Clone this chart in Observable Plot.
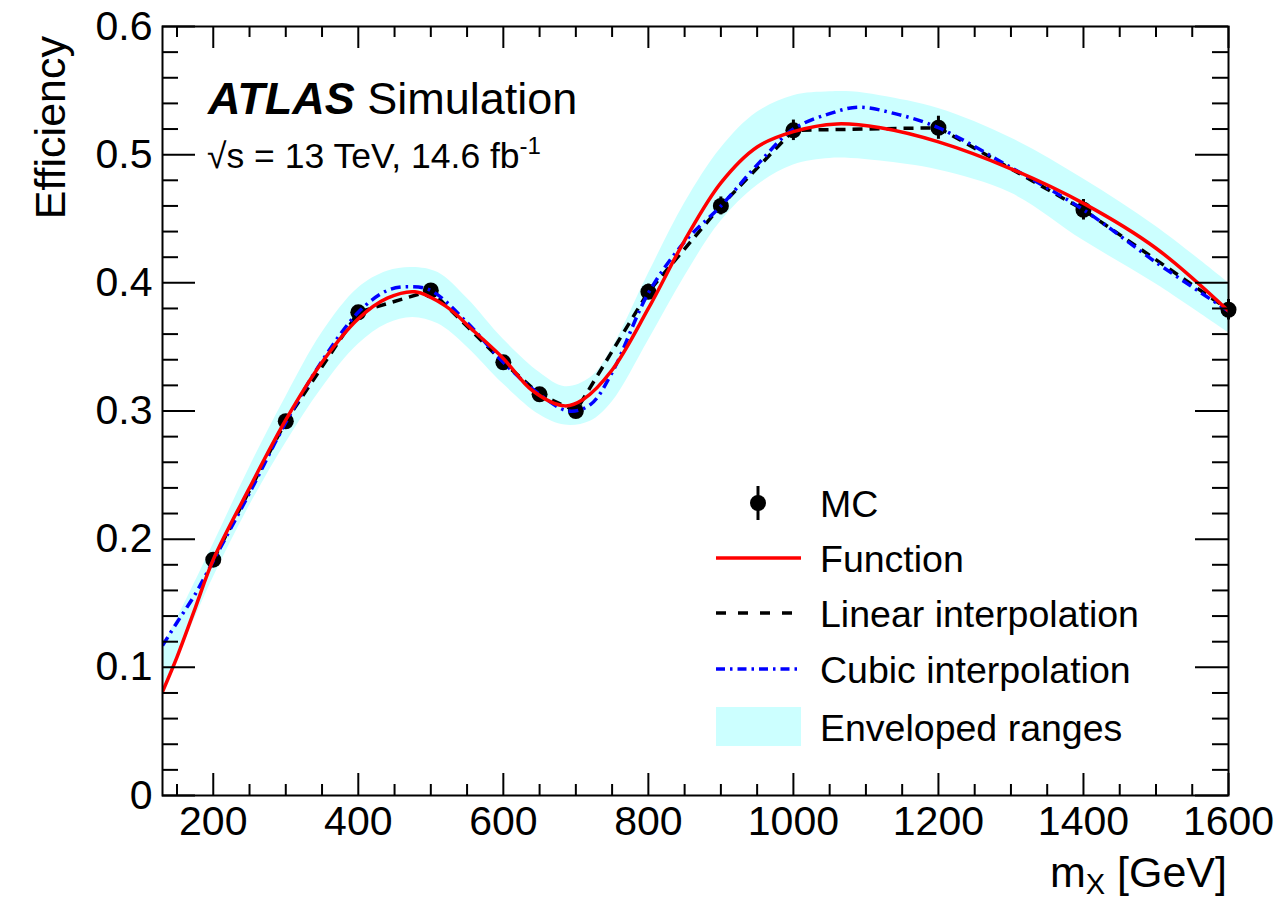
<!DOCTYPE html>
<html>
<head>
<meta charset="utf-8">
<script src="https://cdn.jsdelivr.net/npm/d3@7"></script>
<script src="https://cdn.jsdelivr.net/npm/@observablehq/plot@0.6"></script>
<style>
  html, body { margin: 0; padding: 0; background: white; }
  #chart { position: relative; width: 1283px; height: 907px; }
</style>
</head>
<body>
<div id="chart"></div>
<script>
// ---- Data ----
const mcMass = [200, 300, 400, 500, 600, 650, 700, 800, 900, 1000, 1200, 1400, 1600];
const mcEff  = [0.184, 0.292, 0.377, 0.394, 0.338, 0.313, 0.300, 0.393, 0.460, 0.519, 0.521, 0.457, 0.379];
const mcErr  = [0.004, 0.004, 0.005, 0.005, 0.005, 0.005, 0.005, 0.006, 0.007, 0.008, 0.009, 0.008, 0.008];

const fnMass = [130, 150, 175, 200, 250, 300, 350, 400, 440, 478, 520, 560, 600, 640, 685, 710, 750, 800, 850, 900, 950, 1000, 1060, 1120, 1200, 1300, 1400, 1500, 1600];
const fnEff  = [0.081, 0.108, 0.146, 0.184, 0.240, 0.293, 0.338, 0.372, 0.388, 0.393, 0.382, 0.362, 0.341, 0.316, 0.304, 0.309, 0.332, 0.380, 0.433, 0.478, 0.506, 0.518, 0.524, 0.521, 0.510, 0.489, 0.462, 0.427, 0.378];

const cubicMass = [130, 150, 175, 200, 250, 300, 350, 400, 440, 470, 500, 550, 600, 650, 690, 720, 750, 800, 850, 900, 950, 1000, 1050, 1090, 1140, 1200, 1300, 1400, 1500, 1600];
const cubicEff  = [0.117, 0.135, 0.157, 0.183, 0.236, 0.291, 0.339, 0.377, 0.394, 0.397, 0.394, 0.369, 0.338, 0.313, 0.300, 0.305, 0.330, 0.392, 0.432, 0.460, 0.492, 0.520, 0.532, 0.537, 0.532, 0.521, 0.490, 0.457, 0.416, 0.378];

const bandMass = [130, 150, 200, 250, 300, 350, 400, 440, 475, 510, 550, 600, 650, 685, 720, 750, 800, 850, 900, 950, 1000, 1050, 1080, 1120, 1200, 1300, 1400, 1500, 1600];
const bandHigh = [0.117, 0.138, 0.196, 0.256, 0.311, 0.361, 0.396, 0.409, 0.412, 0.408, 0.388, 0.356, 0.330, 0.319, 0.326, 0.349, 0.407, 0.462, 0.505, 0.533, 0.546, 0.549, 0.549, 0.546, 0.536, 0.513, 0.481, 0.444, 0.400];
const bandLow  = [0.080, 0.106, 0.170, 0.226, 0.275, 0.318, 0.352, 0.368, 0.373, 0.368, 0.350, 0.321, 0.297, 0.289, 0.292, 0.307, 0.355, 0.405, 0.448, 0.476, 0.492, 0.497, 0.497, 0.495, 0.488, 0.470, 0.433, 0.399, 0.361];

const xMajor = [200, 400, 600, 800, 1000, 1200, 1400, 1600];
const xMinor = [150, 250, 300, 350, 450, 500, 550, 650, 700, 750, 850, 900, 950, 1050, 1100, 1150, 1250, 1300, 1350, 1450, 1500, 1550];
const yMajor = [0, 0.1, 0.2, 0.3, 0.4, 0.5, 0.6];
const yMinor = [0.02, 0.04, 0.06, 0.08, 0.12, 0.14, 0.16, 0.18, 0.22, 0.24, 0.26, 0.28, 0.32, 0.34, 0.36, 0.38, 0.42, 0.44, 0.46, 0.48, 0.52, 0.54, 0.56, 0.58];

const legendLabels = ["MC", "Function", "Linear interpolation", "Cubic interpolation", "Enveloped ranges"];

// ---- Tables ----
const mc = mcMass.map((m, i) => ({m, e: mcEff[i], err: mcErr[i]}));
const fn = fnMass.map((m, i) => ({m, e: fnEff[i]}));
const cubic = cubicMass.map((m, i) => ({m, e: cubicEff[i]}));
const band = bandMass.map((m, i) => ({m, lo: bandLow[i], hi: bandHigh[i]}));

// ---- Layout ----
const FONT = "'Liberation Sans', Arial, Helvetica, sans-serif";
const W = 1283, H = 907, mL = 162, mR = 55, mT = 26, mB = 112;
const fw = W - mL - mR, fh = H - mT - mB;
const BAND = "#ccffff";
const LW = 3.5;

const chart = Plot.plot({
  width: W, height: H,
  marginLeft: mL, marginRight: mR, marginTop: mT, marginBottom: mB,
  style: {fontFamily: FONT, background: "white", color: "black"},
  x: {domain: [130, 1600], label: null},
  y: {domain: [0, 0.6], label: null},
  marks: [
    Plot.areaY(band, {x: "m", y1: "lo", y2: "hi", fill: BAND, curve: "catmull-rom", clip: true}),
    Plot.ruleX(mc, {x: "m", y1: d => d.e - d.err, y2: d => d.e + d.err, stroke: "black", strokeWidth: 3}),
    Plot.dot(mc, {x: "m", y: "e", r: 8, fill: "black", stroke: "none"}),
    Plot.line(mc, {x: "m", y: "e", stroke: "black", strokeWidth: LW, strokeDasharray: "10,7", strokeLinecap: "butt", clip: true}),
    Plot.line(cubic, {x: "m", y: "e", stroke: "#0000ff", strokeWidth: LW, strokeDasharray: "10,5,2.5,5", strokeLinecap: "butt", curve: "catmull-rom", clip: true}),
    Plot.line(fn, {x: "m", y: "e", stroke: "#ff0000", strokeWidth: LW, curve: "catmull-rom", clip: true}),
    // inward ticks, bottom & top
    Plot.tickX(xMajor, {x: d => d, insetTop: fh - 22, stroke: "black", strokeWidth: 2}),
    Plot.tickX(xMinor, {x: d => d, insetTop: fh - 11, stroke: "black", strokeWidth: 2}),
    Plot.tickX(xMajor, {x: d => d, insetBottom: fh - 22, stroke: "black", strokeWidth: 2}),
    Plot.tickX(xMinor, {x: d => d, insetBottom: fh - 11, stroke: "black", strokeWidth: 2}),
    // inward ticks, left & right
    Plot.tickY(yMajor, {y: d => d, insetRight: fw - 33, stroke: "black", strokeWidth: 2}),
    Plot.tickY(yMinor, {y: d => d, insetRight: fw - 16, stroke: "black", strokeWidth: 2}),
    Plot.tickY(yMajor, {y: d => d, insetLeft: fw - 33, stroke: "black", strokeWidth: 2}),
    Plot.tickY(yMinor, {y: d => d, insetLeft: fw - 16, stroke: "black", strokeWidth: 2}),
    Plot.frame({stroke: "black", strokeWidth: 2}),
    Plot.axisX({ticks: xMajor, tickSize: 0, tickPadding: 10, fontSize: 41, tickFormat: d => String(d), label: null}),
    Plot.axisY({ticks: yMajor, tickSize: 0, tickPadding: 10, fontSize: 41, tickFormat: d => d === 0 ? "0" : d.toFixed(1), label: null})
  ]
});

document.getElementById("chart").appendChild(chart);

// ---- Annotations & legend ----
const svg = d3.select(chart);
const g = svg.append("g")
  .attr("font-family", FONT)
  .attr("fill", "black")
  .attr("text-anchor", "start");

// Axis titles
g.append("text")
  .attr("transform", "translate(65,36) rotate(-90)")
  .attr("text-anchor", "end")
  .attr("font-size", 43)
  .text("Efficiency");

const xt = g.append("text").attr("x", 1227).attr("y", 887).attr("text-anchor", "end").attr("font-size", 43);
xt.append("tspan").text("m");
xt.append("tspan").attr("font-size", 29).attr("dy", 7).text("X");
xt.append("tspan").attr("dy", -7).text(" [GeV]");

// ATLAS label
const at = g.append("text").attr("x", 208).attr("y", 114).attr("font-size", 45);
at.append("tspan").attr("font-weight", "bold").attr("font-style", "italic").text("ATLAS");
at.append("tspan").text(" Simulation");

const en = g.append("text").attr("x", 207).attr("y", 168).attr("font-size", 35.5);
en.append("tspan").text("\u221As = 13 TeV, 14.6 fb");
en.append("tspan").attr("font-size", 24).attr("dy", -14).text("-1");

// Legend
const lg = g.append("g");
const lx0 = 716, lx1 = 801, tx = 820;
const rowsY = [503, 558, 613, 669, 727];
// MC
lg.append("line").attr("x1", 758).attr("x2", 758).attr("y1", rowsY[0] - 17).attr("y2", rowsY[0] + 17)
  .attr("stroke", "black").attr("stroke-width", 3);
lg.append("circle").attr("cx", 758).attr("cy", rowsY[0]).attr("r", 8).attr("fill", "black");
// Function
lg.append("line").attr("x1", lx0).attr("x2", lx1).attr("y1", rowsY[1]).attr("y2", rowsY[1])
  .attr("stroke", "#ff0000").attr("stroke-width", LW);
// Linear
lg.append("line").attr("x1", lx0).attr("x2", lx1).attr("y1", rowsY[2]).attr("y2", rowsY[2])
  .attr("stroke", "black").attr("stroke-width", LW).attr("stroke-dasharray", "10,12");
// Cubic
lg.append("line").attr("x1", lx0).attr("x2", lx1).attr("y1", rowsY[3]).attr("y2", rowsY[3])
  .attr("stroke", "#0000ff").attr("stroke-width", LW).attr("stroke-dasharray", "9,5,2.5,5");
// Band
lg.append("rect").attr("x", lx0).attr("y", 707).attr("width", lx1 - lx0).attr("height", 39).attr("fill", BAND);

legendLabels.forEach((t, i) => {
  lg.append("text").attr("x", tx).attr("y", rowsY[i] + 14).attr("font-size", 37.5).text(t);
});
</script>
</body>
</html>
